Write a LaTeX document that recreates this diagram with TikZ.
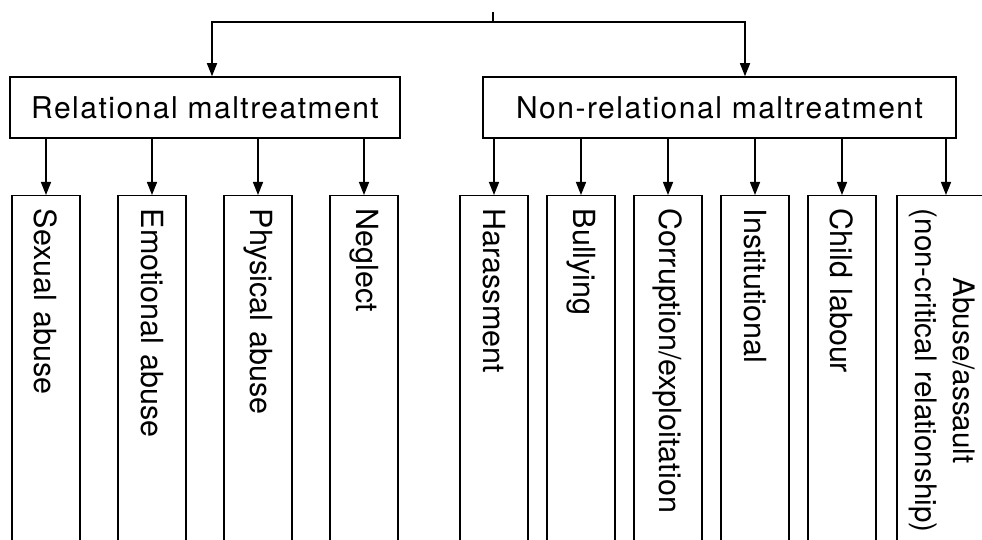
\documentclass[tikz,border=0pt]{standalone}
\usepackage{fontspec}
\setmainfont{TeX Gyre Heros}
\newfontfamily\headfont[LetterSpace=5]{TeX Gyre Heros}
\usetikzlibrary{arrows.meta}
\usetikzlibrary{positioning}

\begin{document}
\begin{tikzpicture}[x=1pt, y=-1pt, line width=1.5pt, -{Triangle[length=13pt,width=10pt]}]
\tikzset{HeadStyle/.style = {shape=rectangle, draw, inner sep=0pt, minimum height=61pt, font=\headfont\fontsize{30}{38}\selectfont}}
\tikzset{LeafStyle/.style = {shape=rectangle, draw, rotate=-90, anchor=west, minimum width=360pt, minimum height=68pt, inner xsep=13pt, inner ysep=0pt, text width=334pt, align=left, font=\fontsize{30.5}{38}\selectfont}}
	\useasboundingbox (0,0) rectangle (982,540);

	\coordinate (top) at (493,12);
	\coordinate (split) at (493,22);
	\node[HeadStyle, minimum width=390pt] (rel) at (205,107.5) {Relational maltreatment};
	\node[HeadStyle, minimum width=473pt] (nonrel) at (719.5,107.5) {Non-relational maltreatment};
	\draw[-] (top) -- (split);
	\draw (split) -| ([xshift=7pt]rel.north);
	\draw (split) -| ([xshift=25.5pt]nonrel.north);

	\node[LeafStyle] (sexual) at (46,195) {Sexual abuse};
	\node[LeafStyle] (emotional) at (152,195) {Emotional abuse};
	\node[LeafStyle] (physical) at (258,195) {Physical abuse};
	\node[LeafStyle] (neglect) at (364,195) {Neglect};
	\draw (sexual.west |- rel.south) -- (sexual.west);
	\draw (emotional.west |- rel.south) -- (emotional.west);
	\draw (physical.west |- rel.south) -- (physical.west);
	\draw (neglect.west |- rel.south) -- (neglect.west);

	\node[LeafStyle] (harass) at (494,195) {Harassment};
	\node[LeafStyle] (bully) at (581,195) {Bullying};
	\node[LeafStyle] (corrupt) at (668,195) {Corruption/exploitation};
	\node[LeafStyle] (instit) at (755,195) {Institutional};
	\node[LeafStyle] (labour) at (842,195) {Child labour};
	\node[LeafStyle, minimum height=90pt, font=\fontsize{29.6}{38}\selectfont] (assault) at (942,195)
		{\begin{tabular}{@{}c@{}}Abuse/assault\\(non-critical relationship)\end{tabular}};
	\draw (harass.west |- nonrel.south) -- (harass.west);
	\draw (bully.west |- nonrel.south) -- (bully.west);
	\draw (corrupt.west |- nonrel.south) -- (corrupt.west);
	\draw (instit.west |- nonrel.south) -- (instit.west);
	\draw (labour.west |- nonrel.south) -- (labour.west);
	\draw ([xshift=4pt]assault.west |- nonrel.south) -- ([xshift=4pt]assault.west);

\end{tikzpicture}
\end{document}
